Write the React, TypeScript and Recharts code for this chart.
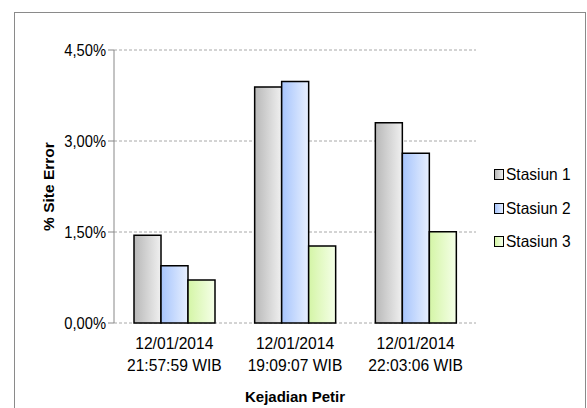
import { BarChart, Bar, XAxis, YAxis, CartesianGrid } from "recharts";

const CATEGORIES = [
  "12/01/2014|21:57:59 WIB",
  "12/01/2014|19:09:07 WIB",
  "12/01/2014|22:03:06 WIB",
];
const STASIUN_1 = [1.445, 3.89, 3.3];
const STASIUN_2 = [0.945, 3.98, 2.8];
const STASIUN_3 = [0.71, 1.27, 1.505];
const Y_TICKS = [0, 1.5, 3, 4.5];
const EDGE_TICKS = [0, 1, 2, 3];

const SERIES = [
  { key: "s1", name: "Stasiun 1", from: "#b8b8b8", to: "#f0f0f0" },
  { key: "s2", name: "Stasiun 2", from: "#a6c4fc", to: "#e8f0ff" },
  { key: "s3", name: "Stasiun 3", from: "#d4f5a6", to: "#f5ffe8" },
];

const data = CATEGORIES.map((c, i) => ({
  cat: c,
  s1: STASIUN_1[i],
  s2: STASIUN_2[i],
  s3: STASIUN_3[i],
}));

const FONT = '"Liberation Sans", Arial, sans-serif';

const fmtPct = (v: number) => v.toFixed(2).replace(".", ",") + "%";

// two-line category label, squeezed a bit to look like the narrow original font
function CatTick(props: any) {
  const { x, y, payload } = props;
  const lines = String(payload.value).split("|");
  return (
    <g transform={`translate(${x},${y}) scale(0.92,1)`}>
      <text x={0} y={0} textAnchor="middle" fill="#000" fontSize={17} fontFamily={FONT}>
        {lines.map((l, i) => (
          <tspan key={i} x={0} dy={i === 0 ? 18.5 : 22}>
            {l}
          </tspan>
        ))}
      </text>
    </g>
  );
}

function ValTick(props: any) {
  const { x, y, payload } = props;
  return (
    <g transform={`translate(${x},${y}) scale(0.92,1)`}>
      <text x={0} y={0} dy={5.5} textAnchor="end" fill="#000" fontSize={16} fontFamily={FONT}>
        {fmtPct(payload.value)}
      </text>
    </g>
  );
}

export default function App() {
  return (
    <div style={{ position: "absolute", left: 0, top: 0, width: 587, height: 408, overflow: "hidden", background: "#fff" }}>
      <div
        style={{
          position: "absolute",
          left: 14,
          top: 12,
          width: 572,
          height: 440,
          boxSizing: "border-box",
          border: "1.5px solid #8a8a8a",
        }}
      />
      <BarChart
        width={587}
        height={408}
        data={data}
        margin={{ top: 50, right: 111, left: 54, bottom: 5 }}
        barCategoryGap={20}
        barGap={0}
        style={{ position: "absolute", left: 0, top: 0 }}
      >
        <defs>
          {SERIES.map((s) => (
            <linearGradient key={s.key} id={"grad-" + s.key} x1="0" y1="0" x2="1" y2="0">
              <stop offset="0%" stopColor={s.from} />
              <stop offset="100%" stopColor={s.to} />
            </linearGradient>
          ))}
        </defs>
        <CartesianGrid vertical={false} stroke="#a8a8a8" strokeDasharray="3 2" />
        <XAxis
          dataKey="cat"
          axisLine={false}
          tickLine={false}
          height={80}
          interval={0}
          tick={<CatTick />}
          label={{
            value: "Kejadian Petir",
            position: "insideBottom",
            offset: 1,
            style: { fontFamily: FONT, fontSize: 15, fontWeight: 700, fill: "#000" },
          }}
        />
        <XAxis
          xAxisId="edge"
          type="number"
          domain={[0, 3]}
          ticks={EDGE_TICKS}
          height={0}
          tickFormatter={() => ""}
          axisLine={{ stroke: "#888888", strokeWidth: 1 }}
          tickLine={{ stroke: "#888888" }}
          tickSize={6}
        />
        <YAxis
          width={60}
          domain={[0, 4.5]}
          ticks={Y_TICKS}
          axisLine={{ stroke: "#888888" }}
          tickLine={{ stroke: "#888888" }}
          tickSize={6}
          tick={<ValTick />}
          label={{
            value: "% Site Error",
            angle: -90,
            position: "insideLeft",
            offset: -6,
            style: { textAnchor: "middle", fontFamily: FONT, fontSize: 15.5, fontWeight: 700, fill: "#000" },
          }}
        />
        {SERIES.map((s) => (
          <Bar
            key={s.key}
            dataKey={s.key}
            name={s.name}
            fill={`url(#grad-${s.key})`}
            stroke="#000"
            strokeWidth={1.5}
            isAnimationActive={false}
          />
        ))}
      </BarChart>
      <div style={{ position: "absolute", left: 494, top: 158, fontFamily: FONT, fontSize: 16.5 }}>
        {SERIES.map((s) => (
          <div key={s.key} style={{ display: "flex", alignItems: "center", height: 33.5 }}>
            <span
              style={{
                display: "inline-block",
                width: 8,
                height: 9,
                border: "1.5px solid #000",
                background: `linear-gradient(to right, ${s.from}, ${s.to})`,
                marginRight: 2,
              }}
            />
            <span style={{ display: "inline-block", transform: "scaleX(0.94)", transformOrigin: "left center" }}>
              {s.name}
            </span>
          </div>
        ))}
      </div>
    </div>
  );
}
